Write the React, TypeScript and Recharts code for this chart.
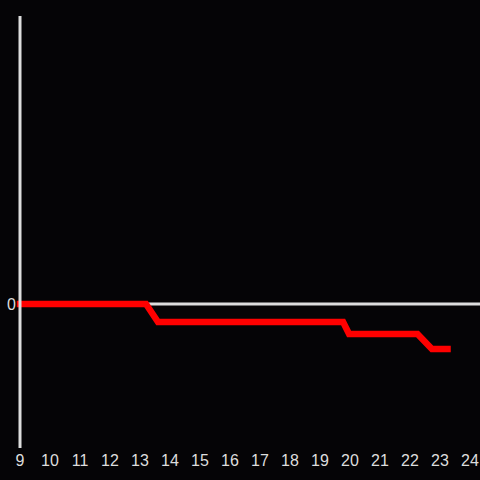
import { LineChart, Line, XAxis, YAxis, ReferenceLine } from 'recharts';

// time of day (hours) and level
const hours = [9, 13.2, 13.6, 19.77, 19.97, 22.25, 22.73, 23.25];
const levels = [0, 0, -1, -1, -1.67, -1.67, -2.5, -2.5];
const xTicks = [9, 10, 11, 12, 13, 14, 15, 16, 17, 18, 19, 20, 21, 22, 23, 24];

const data = hours.map((h, i) => ({ hour: h, level: levels[i] }));

const axisColor = '#dddddd';
const font = { fill: '#dddddd', fontSize: 16, fontFamily: 'Liberation Sans, Arial, sans-serif' };

export default function App() {
  return (
    <div style={{ position: 'fixed', top: 0, left: 0, width: 480, height: 480, background: '#050406' }}>
      <LineChart width={480} height={480} data={data} margin={{ top: 16, right: 0, bottom: 0, left: 0 }}>
        <XAxis
          dataKey="hour"
          type="number"
          domain={[9, 24 + 1 / 3]}
          ticks={xTicks}
          axisLine={false}
          tickLine={false}
          tickMargin={1}
          height={32}
          tick={font}
          interval={0}
        />
        <YAxis
          type="number"
          domain={[-8, 16]}
          ticks={[0]}
          width={20}
          tickLine={false}
          tickSize={0}
          tickMargin={4}
          axisLine={{ stroke: axisColor, strokeWidth: 3 }}
          tick={font}
        />
        <ReferenceLine y={0} stroke={axisColor} strokeWidth={3} />
        <Line
          type="linear"
          dataKey="level"
          stroke="#ff0000"
          strokeWidth={6.5}
          strokeLinecap="square"
          strokeLinejoin="miter"
          dot={false}
          isAnimationActive={false}
        />
      </LineChart>
    </div>
  );
}
